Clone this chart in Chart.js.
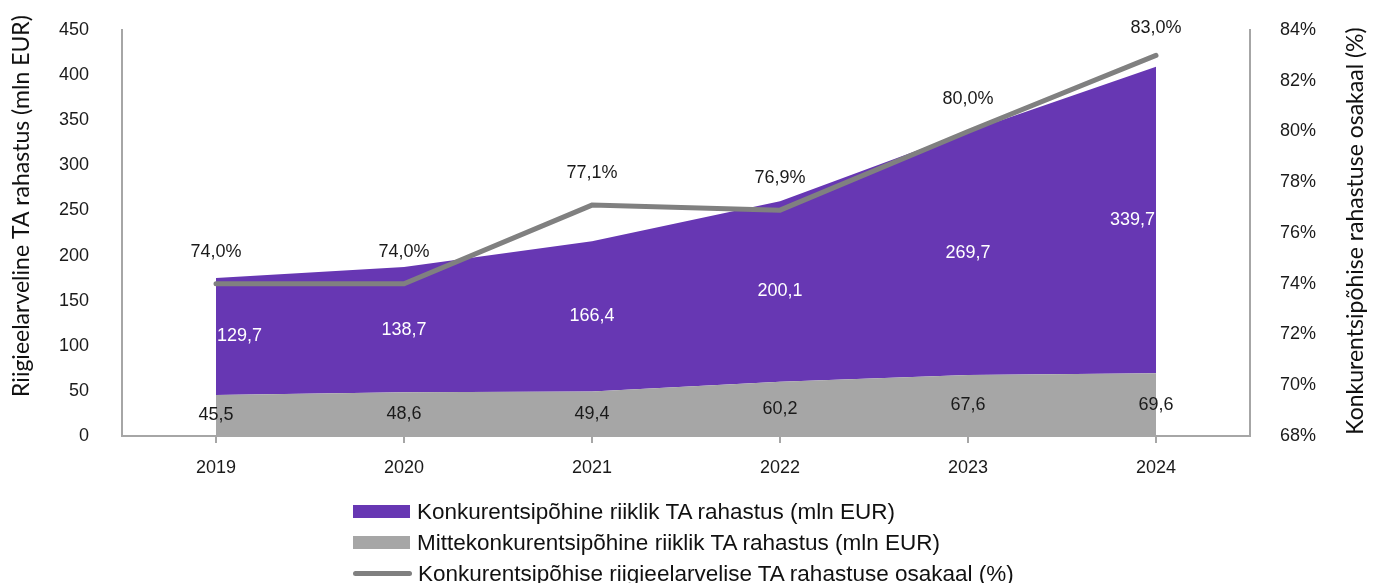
<!DOCTYPE html>
<html>
<head>
<meta charset="utf-8">
<script src="https://cdn.jsdelivr.net/npm/chart.js@4/dist/chart.umd.min.js"></script>
<style>
  body { margin: 0; background: #fff; }
  #wrap { position: relative; width: 1378px; height: 583px; }
  #legend { position: absolute; left: 353px; top: 496px; font-family: "Liberation Sans Narrow", "Arial Narrow", sans-serif; font-size: 22.5px; color: #111; }
  .row { height: 31px; display: flex; align-items: center; }
  .sw { width: 57px; height: 13px; margin-right: 7px; }
  .ln { width: 59px; height: 5px; border-radius: 3px; margin-right: 6px; background: #808080; }
</style>
</head>
<body>
<div id="wrap">
  <canvas id="myChart" width="1378" height="583"></canvas>
  <div id="legend">
    <div class="row"><span class="sw" style="background:#6737b3"></span>Konkurentsipõhine riiklik TA rahastus (mln EUR)</div>
    <div class="row"><span class="sw" style="background:#a6a6a6"></span>Mittekonkurentsipõhine riiklik TA rahastus (mln EUR)</div>
    <div class="row"><span class="ln"></span>Konkurentsipõhise riigieelarvelise TA rahastuse osakaal (%)</div>
  </div>
</div>
<script>
const years = ['2019', '2020', '2021', '2022', '2023', '2024']
const competitive = [129.7, 138.7, 166.4, 200.1, 269.7, 339.7]
const nonCompetitive = [45.5, 48.6, 49.4, 60.2, 67.6, 69.6]
const competitiveShare = [74.0, 74.0, 77.1, 76.9, 80.0, 83.0]

const fmt = (v, d) => v.toFixed(d).replace('.', ',')
const labelFont = '18px "Liberation Sans", Arial, sans-serif'

// value labels and rotated axis titles
const labelsPlugin = {
  id: 'labels',
  afterDatasetsDraw(chart) {
    const ctx = chart.ctx
    const x = chart.scales.x, y = chart.scales.y, y1 = chart.scales.y1
    ctx.save()
    ctx.font = labelFont
    ctx.textBaseline = 'middle'
    for (let i = 0; i < years.length; i++) {
      const px = x.getPixelForValue(i)
      ctx.fillStyle = '#1a1a1a'
      ctx.textAlign = 'center'
      ctx.fillText(fmt(nonCompetitive[i], 1), px, y.getPixelForValue(nonCompetitive[i] / 2))
      // keep the top label inside the plot like the original does
      const ly = Math.max(y1.getPixelForValue(competitiveShare[i]) - 32, chart.chartArea.top - 2)
      ctx.fillText(fmt(competitiveShare[i], 1) + '%', px, ly)
      ctx.fillStyle = '#ffffff'
      let lx = px
      if (i === 0) { ctx.textAlign = 'left'; lx = px + 1 }
      else if (i === years.length - 1) { ctx.textAlign = 'right'; lx = px - 1 }
      ctx.fillText(fmt(competitive[i], 1), lx, y.getPixelForValue(nonCompetitive[i] + competitive[i] / 2))
    }
    ctx.fillStyle = '#111'
    ctx.textAlign = 'center'
    ctx.font = '23px Lato, sans-serif'
    ctx.translate(22, 206)
    ctx.rotate(-Math.PI / 2)
    ctx.fillText('Riigieelarveline TA rahastus (mln EUR)', 0, 0)
    ctx.restore()
    ctx.save()
    ctx.fillStyle = '#111'
    ctx.textAlign = 'center'
    ctx.textBaseline = 'middle'
    ctx.font = '23px Lato, sans-serif'
    ctx.translate(1356, 231)
    ctx.rotate(-Math.PI / 2)
    ctx.fillText('Konkurentsipõhise rahastuse osakaal (%)', 0, 0)
    ctx.restore()
  }
}

const tickFont = { family: '"Liberation Sans", Arial, sans-serif', size: 18 }

// fixed axis box sizes so the plot area lands where the original has it
const fixBox = w => s => { s.width = w; s.paddingTop = 0; s.paddingBottom = 0 }

new Chart(document.getElementById('myChart').getContext('2d'), {
  type: 'line',
  data: {
    labels: years,
    datasets: [
      {
        label: 'Konkurentsipõhise riigieelarvelise TA rahastuse osakaal (%)',
        data: competitiveShare,
        yAxisID: 'y1',
        borderColor: '#808080',
        borderWidth: 5,
        borderCapStyle: 'round',
        pointRadius: 0,
        fill: false,
        tension: 0
      },
      {
        label: 'Mittekonkurentsipõhine riiklik TA rahastus (mln EUR)',
        data: nonCompetitive,
        yAxisID: 'y',
        backgroundColor: '#a6a6a6',
        borderWidth: 0,
        pointRadius: 0,
        fill: 'origin'
      },
      {
        label: 'Konkurentsipõhine riiklik TA rahastus (mln EUR)',
        data: competitive,
        yAxisID: 'y',
        backgroundColor: '#6737b3',
        borderWidth: 0,
        pointRadius: 0,
        fill: '-1'
      }
    ]
  },
  options: {
    responsive: false,
    animation: false,
    layout: { padding: { top: 30, left: 0, right: 0, bottom: 0 } },
    plugins: { legend: { display: false }, tooltip: { enabled: false } },
    scales: {
      x: {
        offset: true,
        grid: { offset: false, drawOnChartArea: false, tickLength: 7, color: '#a6a6a6', lineWidth: 2 },
        border: { color: '#a6a6a6', width: 2 },
        ticks: { font: tickFont, color: '#1a1a1a', padding: 14 },
        afterFit: s => { s.height = 147 }
      },
      y: {
        stacked: true,
        min: 0, max: 450,
        grid: { display: false },
        border: { color: '#a6a6a6', width: 2 },
        ticks: { stepSize: 50, font: tickFont, color: '#1a1a1a', padding: 25 },
        afterFit: fixBox(122)
      },
      y1: {
        position: 'right',
        min: 68, max: 84,
        grid: { display: false },
        border: { color: '#a6a6a6', width: 2 },
        ticks: { stepSize: 2, font: tickFont, color: '#1a1a1a', padding: 22, callback: v => v + '%' },
        afterFit: fixBox(128)
      }
    }
  },
  plugins: [labelsPlugin]
})
</script>
</body>
</html>
